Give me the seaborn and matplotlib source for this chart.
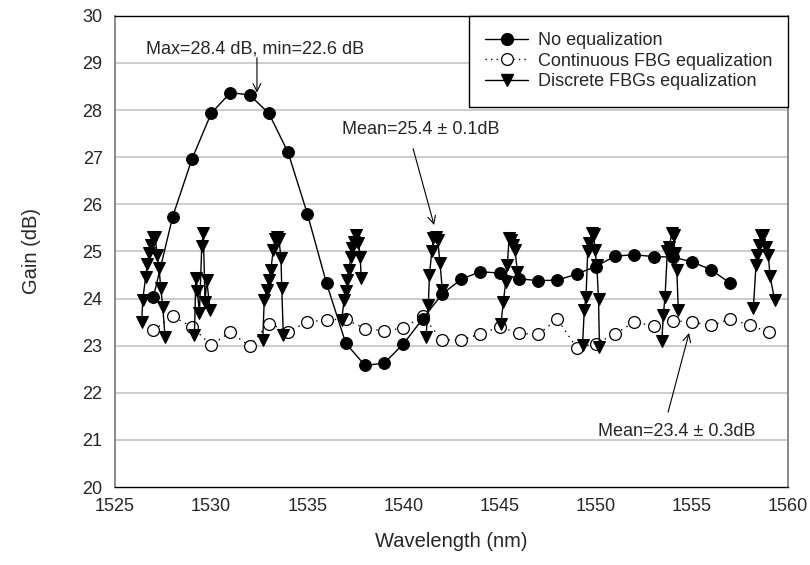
import numpy as np
import pandas as pd
import matplotlib
matplotlib.use('Agg')
import matplotlib.pyplot as plt
from matplotlib.lines import Line2D
import seaborn as sns

# Gain spectra
wl_noeq = [1527, 1528, 1529, 1530, 1531, 1532, 1533, 1534, 1535, 1536, 1537,
           1538, 1539, 1540, 1541, 1542, 1543, 1544, 1545, 1546, 1547,
           1548, 1549, 1550, 1551, 1552, 1553, 1554, 1555, 1556, 1557]
gain_noeq = [24.04, 25.74, 26.96, 27.93, 28.37, 28.32, 27.93, 27.10, 25.80, 24.32, 23.05,
             22.58, 22.63, 23.04, 23.57, 24.09, 24.41, 24.57, 24.54, 24.42, 24.38,
             24.39, 24.52, 24.68, 24.90, 24.93, 24.89, 24.88, 24.78, 24.61, 24.32]

wl_cont = [1527, 1528, 1529, 1530, 1531, 1532, 1533, 1534, 1535, 1536, 1537,
           1538, 1539, 1540, 1541, 1542, 1543, 1544, 1545, 1546, 1547,
           1548, 1549, 1550, 1551, 1552, 1553, 1554, 1555, 1556, 1557, 1558, 1559]
gain_cont = [23.33, 23.62, 23.40, 23.01, 23.29, 22.99, 23.47, 23.30, 23.50, 23.55, 23.56,
             23.36, 23.32, 23.37, 23.63, 23.12, 23.12, 23.25, 23.40, 23.26, 23.24,
             23.56, 22.96, 23.04, 23.25, 23.50, 23.42, 23.53, 23.50, 23.43, 23.56, 23.44, 23.28]

# discrete FBGs: one cluster per grating
fbg_wl = [
    [1526.39, 1526.44, 1526.59, 1526.68, 1526.78, 1526.85, 1526.96, 1527.08, 1527.20, 1527.29, 1527.38, 1527.48, 1527.60],
    [1529.13, 1529.20, 1529.28, 1529.39, 1529.51, 1529.59, 1529.68, 1529.77, 1529.94],
    [1532.68, 1532.76, 1532.89, 1533.01, 1533.10, 1533.23, 1533.32, 1533.41, 1533.52, 1533.63, 1533.67, 1533.75],
    [1536.79, 1536.91, 1537.00, 1537.08, 1537.17, 1537.26, 1537.34, 1537.43, 1537.52, 1537.66, 1537.75, 1537.80],
    [1541.17, 1541.29, 1541.35, 1541.47, 1541.55, 1541.69, 1541.78, 1541.90, 1542.02],
    [1545.07, 1545.19, 1545.32, 1545.40, 1545.49, 1545.59, 1545.68, 1545.80, 1545.92],
    [1549.31, 1549.40, 1549.49, 1549.58, 1549.66, 1549.79, 1549.88, 1549.96, 1550.05, 1550.14, 1550.19],
    [1553.43, 1553.51, 1553.60, 1553.72, 1553.82, 1553.95, 1554.04, 1554.12, 1554.21, 1554.29],
    [1558.19, 1558.33, 1558.40, 1558.50, 1558.59, 1558.71, 1558.85, 1558.97, 1559.06, 1559.30],
]
fbg_gain = [
    [23.50, 23.97, 24.45, 24.73, 24.96, 25.14, 25.30, 25.30, 24.93, 24.64, 24.22, 23.83, 23.19],
    [23.23, 24.43, 24.17, 23.69, 25.12, 25.39, 23.93, 24.39, 23.76],
    [23.12, 23.97, 24.18, 24.39, 24.61, 25.03, 25.26, 25.30, 25.26, 24.86, 24.22, 23.23],
    [23.55, 23.97, 24.15, 24.39, 24.61, 24.89, 25.07, 25.21, 25.35, 25.17, 24.89, 24.43],
    [23.19, 23.86, 24.50, 25.00, 25.28, 25.31, 25.24, 24.75, 24.18],
    [23.47, 23.93, 24.36, 24.71, 25.28, 25.24, 25.14, 25.03, 24.57],
    [23.01, 23.76, 24.04, 25.00, 25.17, 25.39, 25.37, 25.03, 24.71, 24.00, 22.98],
    [23.09, 23.65, 24.04, 25.00, 25.10, 25.39, 25.35, 24.96, 24.61, 23.76],
    [23.79, 24.71, 24.93, 25.14, 25.35, 25.35, 25.10, 24.93, 24.47, 23.97],
]

labels = ['No equalization', 'Continuous FBG equalization', 'Discrete FBGs equalization']

sns.set_style('white')
plt.rcParams['font.family'] = ['Liberation Sans', 'DejaVu Sans']
fs = 13

fig = plt.figure(figsize=(8.1, 5.65), dpi=100)
ax = fig.add_axes([0.142, 0.138, 0.831, 0.834])

# horizontal grid
for g in range(21, 30):
    ax.axhline(g, color='#c4c4c4', lw=1.2, zorder=0)

fbg_df = pd.DataFrame({
    'wl': [w for c in fbg_wl for w in c],
    'gain': [g for c in fbg_gain for g in c],
    'grp': [i for i, c in enumerate(fbg_wl) for _ in c],
})

sns.lineplot(x=wl_cont, y=gain_cont, ax=ax, color='black', lw=1.0, linestyle=(0, (1, 3.5)),
             marker='o', markersize=8.5, markerfacecolor='white', markeredgecolor='black',
             markeredgewidth=0.9, zorder=2)
sns.lineplot(data=fbg_df, x='wl', y='gain', units='grp', estimator=None, ax=ax,
             color='black', lw=1.0, marker='v', markersize=8.5, markeredgecolor='black',
             markerfacecolor='black', zorder=3)
sns.lineplot(x=wl_noeq, y=gain_noeq, ax=ax, color='black', lw=1.0, marker='o', markersize=8.5,
             markerfacecolor='black', markeredgecolor='black', zorder=4)

ax.set_xlim(1525, 1560)
ax.set_ylim(20, 30)
ax.set_xticks(range(1525, 1561, 5))
ax.set_yticks(range(20, 31))
ax.tick_params(axis='x', direction='in', length=5, width=1, color='black', labelsize=fs, pad=8)
ax.tick_params(axis='y', direction='out', length=5, width=1, color='black', labelsize=fs, pad=4)

for side in ['left', 'right']:
    ax.spines[side].set_color('#808080')
    ax.spines[side].set_linewidth(1.3)
for side in ['top', 'bottom']:
    ax.spines[side].set_color('black')
    ax.spines[side].set_linewidth(1.0)

ax.set_xlabel('Wavelength (nm)', fontsize=14.5, labelpad=12)
ax.set_ylabel('Gain (dB)', fontsize=14.5, labelpad=30)

handles = [
    Line2D([], [], color='black', lw=1.0, marker='o', markersize=8.5, markerfacecolor='black'),
    Line2D([], [], color='black', lw=1.0, linestyle=(0, (1, 3)), marker='o', markersize=8.5,
           markerfacecolor='white', markeredgewidth=0.9),
    Line2D([], [], color='black', lw=1.0, marker='v', markersize=8.5, markerfacecolor='black'),
]
leg = ax.legend(handles, labels, loc='upper right', bbox_to_anchor=(1.0, 1.0), borderaxespad=0,
                fancybox=False, framealpha=1, edgecolor='black', fontsize=fs,
                handlelength=2.4, handletextpad=0.5, labelspacing=0.2,
                borderpad=0.9)
leg.get_frame().set_linewidth(1.0)

arrow = dict(arrowstyle='->', color='black', lw=0.8, shrinkA=0, shrinkB=0,
             mutation_scale=14)
ax.text(1526.6, 29.3, 'Max=28.4 dB, min=22.6 dB', ha='left', va='center', fontsize=fs)
ax.annotate('', xy=(1532.38, 28.37), xytext=(1532.38, 29.11), arrowprops=arrow)
ax.text(1545.0, 27.58, 'Mean=25.4 \u00b1 0.1dB', ha='right', va='center', fontsize=fs)
ax.annotate('', xy=(1541.59, 25.56), xytext=(1540.5, 27.18), arrowprops=arrow)
ax.text(1550.1, 21.17, 'Mean=23.4 \u00b1 0.3dB', ha='left', va='center', fontsize=fs)
ax.annotate('', xy=(1554.85, 23.27), xytext=(1553.76, 21.59), arrowprops=arrow)

fig.savefig('out.png', dpi=100)
